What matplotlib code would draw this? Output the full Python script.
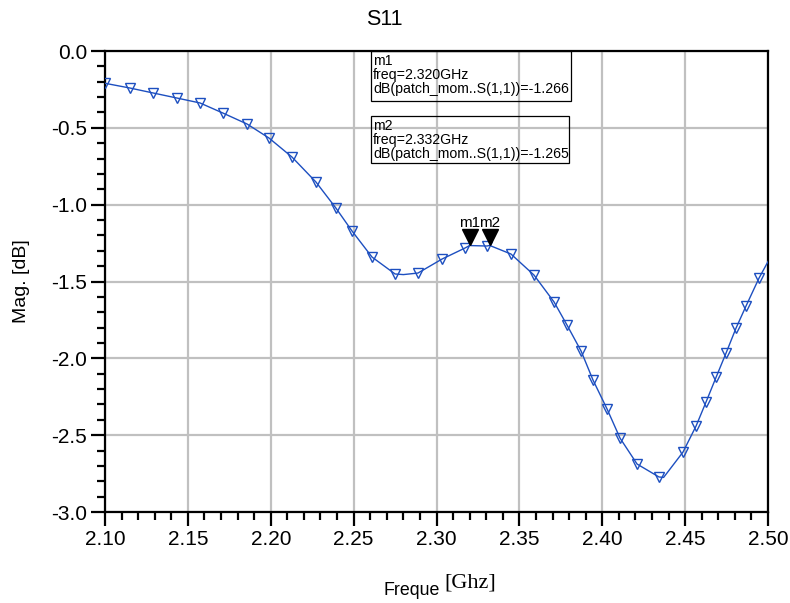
import matplotlib
matplotlib.use('Agg')
import matplotlib.pyplot as plt
import matplotlib.transforms as mtransforms
from matplotlib.patches import Rectangle
from matplotlib.ticker import MultipleLocator
import numpy as np

plt.rcParams['font.family'] = ['Liberation Sans', 'DejaVu Sans']

# trace symbols (freq in GHz, S11 in dB)
sym_freq = [2.1000, 2.1151, 2.1290, 2.1434, 2.1573, 2.1712, 2.1857, 2.1989, 2.2128,
            2.2273, 2.2393, 2.2490, 2.2611, 2.2750, 2.2888, 2.3033, 2.3172, 2.3305,
            2.3449, 2.3588, 2.3709, 2.3787, 2.3872, 2.3944, 2.4029, 2.4107, 2.4210,
            2.4342, 2.4487, 2.4566, 2.4626, 2.4687, 2.4747, 2.4807, 2.4867, 2.4946]
sym_db = [-0.210, -0.241, -0.273, -0.306, -0.338, -0.404, -0.475, -0.566, -0.690,
          -0.853, -1.022, -1.171, -1.341, -1.451, -1.445, -1.354, -1.282, -1.269,
          -1.321, -1.458, -1.633, -1.783, -1.952, -2.141, -2.330, -2.519, -2.688,
          -2.772, -2.610, -2.440, -2.284, -2.122, -1.965, -1.803, -1.660, -1.477]

# extra trace points between symbols
extra_freq = [2.280, 2.320, 2.332, 2.437, 2.500]
extra_db = [-1.455, -1.266, -1.265, -2.775, -1.370]

# markers
mk_names = ['m1', 'm2']
mk_freq = [2.320, 2.332]
mk_db = [-1.266, -1.265]

freq = np.array(sym_freq + extra_freq)
db = np.array(sym_db + extra_db)
order = np.argsort(freq)
freq, db = freq[order], db[order]

blue = '#1d4fc0'

fig = plt.figure(figsize=(7.9, 6.03), dpi=100)
ax = fig.add_axes([0.1329, 0.1509, 0.8393, 0.7645])

ax.plot(freq, db, color=blue, lw=1.0, zorder=3)
ax.plot(sym_freq, sym_db, ls='none', marker='v', ms=7, mfc='none', mec=blue,
        mew=1.0, zorder=4)

# marker triangles sit with their tip on the trace
up = mtransforms.offset_copy(ax.transData, fig=fig, x=0, y=6, units='points')
ax.plot(mk_freq, mk_db, ls='none', marker='v', ms=11, color='black',
        transform=up, zorder=5)
for name, f, d in zip(mk_names, mk_freq, mk_db):
    ax.annotate(name, (f, d), xytext=(0, 11), textcoords='offset points',
                ha='center', va='bottom', fontsize=11, zorder=6)

# marker readout boxes (axes fraction: left, top, width, height)
boxes = [(0.4012, 1.0, 0.3017, 0.1085), (0.4012, 0.859, 0.2987, 0.102)]
for name, f, d, (bx, by, bw, bh) in zip(mk_names, mk_freq, mk_db, boxes):
    ax.add_patch(Rectangle((bx, by - bh), bw, bh, transform=ax.transAxes,
                           fill=False, ec='black', lw=0.9, zorder=6,
                           clip_on=False))
    txt = '%s\nfreq=%.3fGHz\ndB(patch_mom..S(1,1))=%.3f' % (name, f, d)
    ax.text(bx + 0.003, by - 0.006, txt, transform=ax.transAxes, ha='left',
            va='top', fontsize=10.2, linespacing=1.0, zorder=6)

ax.set_xlim(2.10, 2.50)
ax.set_ylim(-3.0, 0.0)
ax.xaxis.set_major_locator(MultipleLocator(0.05))
ax.xaxis.set_minor_locator(MultipleLocator(0.01))
ax.yaxis.set_major_locator(MultipleLocator(0.5))
ax.yaxis.set_minor_locator(MultipleLocator(0.1))
ax.xaxis.set_major_formatter(plt.FormatStrFormatter('%.2f'))
ax.yaxis.set_major_formatter(plt.FormatStrFormatter('%.1f'))

ax.grid(True, which='major', color='#c0c0c0', lw=1.6, zorder=1)
ax.set_axisbelow(True)
for s in ax.spines.values():
    s.set_linewidth(1.6)
    s.set_color('black')
ax.tick_params(which='major', direction='out', length=10, width=1.6,
               labelsize=15, pad=3, top=False, right=False)
ax.tick_params(which='minor', direction='out', length=6, width=1.6,
               top=False, right=False)

fig.text(0.487, 0.985, 'S11', ha='center', va='top', fontsize=15.5)
ax.set_ylabel('Mag. [dB]', fontsize=14)
ax.yaxis.set_label_coords(-0.113, 0.5)
fig.text(0.485, 0.006, 'Freque', ha='left', va='bottom', fontsize=12.8)
fig.text(0.562, 0.017, '[Ghz]', ha='left', va='bottom', fontsize=16,
         family=['Liberation Serif', 'DejaVu Serif'])

fig.savefig('out.png', dpi=100)
